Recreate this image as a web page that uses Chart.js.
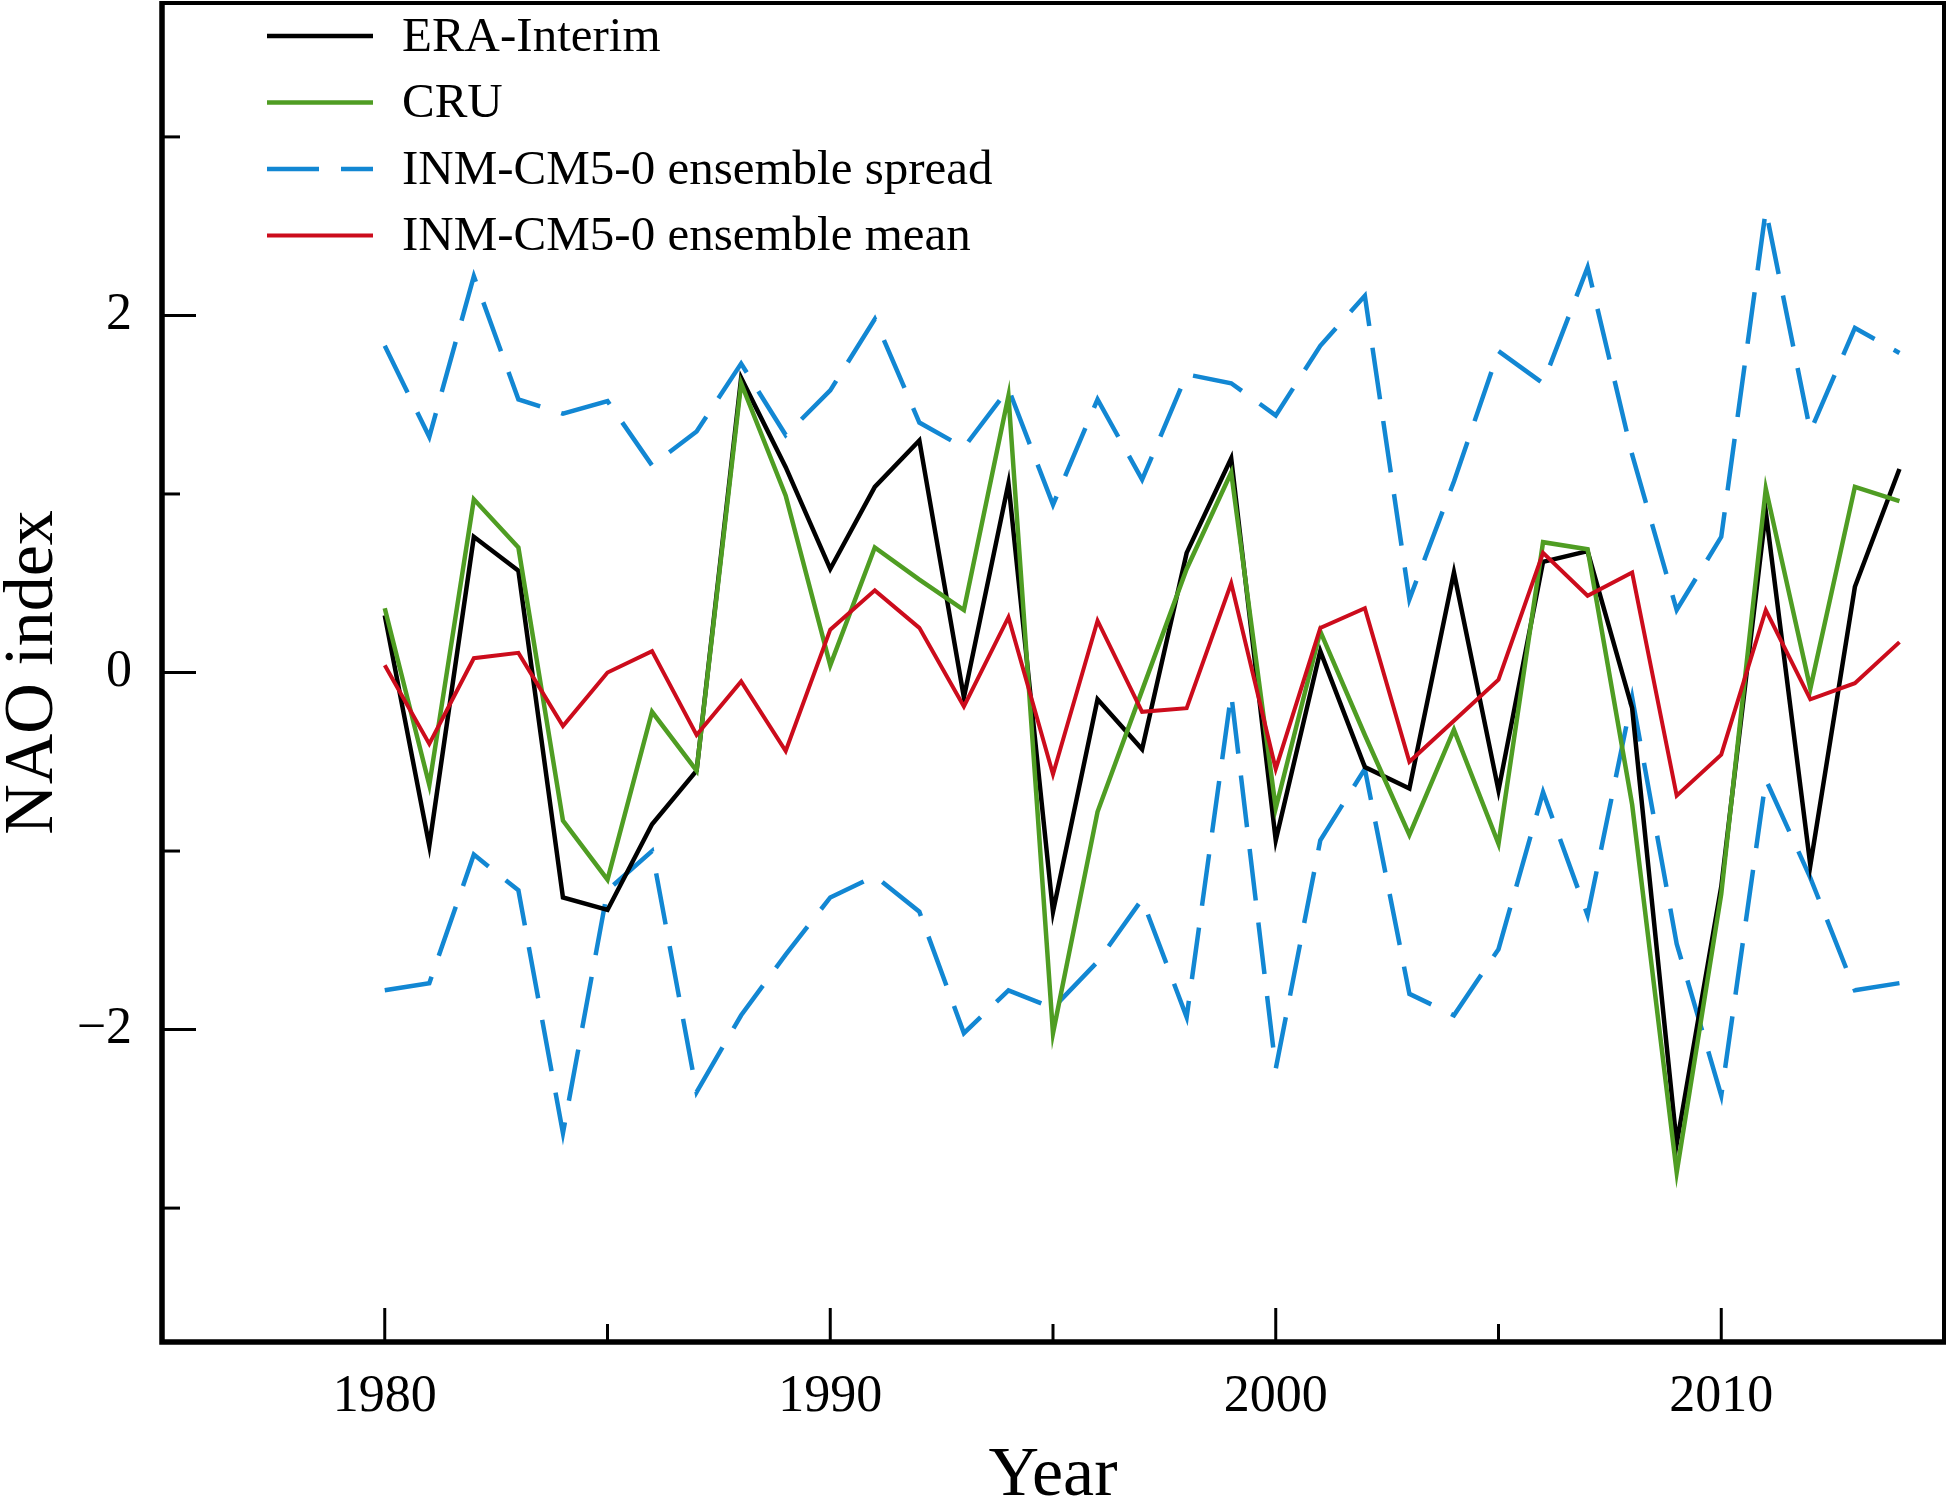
<!DOCTYPE html>
<html>
<head>
<meta charset="utf-8">
<script src="https://cdn.jsdelivr.net/npm/chart.js@4.4.1/dist/chart.umd.min.js"></script>
<style>
  body { margin: 0; background: #fff; }
  #wrap { width: 1950px; height: 1500px; }
</style>
</head>
<body>
<div id="wrap"><canvas id="nao-chart" width="1950" height="1500"></canvas></div>
<script>
var years = [
  1980, 1981, 1982, 1983, 1984, 1985, 1986, 1987, 1988, 1989,
  1990, 1991, 1992, 1993, 1994, 1995, 1996, 1997, 1998, 1999,
  2000, 2001, 2002, 2003, 2004, 2005, 2006, 2007, 2008, 2009,
  2010, 2011, 2012, 2013, 2014,
];

var eraInterim = [
  0.32, -0.97, 0.76, 0.57, -1.26, -1.33, -0.85, -0.55, 1.65, 1.15,
  0.58, 1.04, 1.30, -0.14, 1.06, -1.34, -0.15, -0.43, 0.67, 1.20,
  -0.94, 0.12, -0.53, -0.65, 0.56, -0.66, 0.62, 0.68, -0.20, -2.64,
  -1.20, 0.90, -1.08, 0.48, 1.14,
];

var cru = [
  0.36, -0.63, 0.97, 0.70, -0.83, -1.16, -0.22, -0.55, 1.62, 0.99,
  0.04, 0.70, 0.52, 0.35, 1.55, -2.02, -0.78, -0.10, 0.58, 1.12,
  -0.76, 0.23, -0.35, -0.91, -0.32, -0.96, 0.73, 0.69, -0.74, -2.80,
  -1.24, 1.03, -0.09, 1.04, 0.96,
];

var spreadUpper = [
  1.83, 1.32, 2.22, 1.53, 1.45, 1.52, 1.16, 1.35, 1.73, 1.33,
  1.58, 1.98, 1.40, 1.26, 1.59, 0.94, 1.53, 1.08, 1.67, 1.62,
  1.44, 1.83, 2.11, 0.41, 1.07, 1.80, 1.62, 2.27, 1.22, 0.35,
  0.76, 2.59, 1.35, 1.93, 1.79,
];

var spreadLower = [
  -1.78, -1.74, -1.02, -1.22, -2.58, -1.22, -1.00, -2.35, -1.92, -1.58,
  -1.26, -1.14, -1.34, -2.02, -1.78, -1.88, -1.62, -1.27, -1.93, -0.12,
  -2.22, -0.94, -0.54, -1.80, -1.92, -1.55, -0.67, -1.36, -0.14, -1.52,
  -2.37, -0.60, -1.15, -1.78, -1.74,
];

var ensembleMean = [
  0.04, -0.40, 0.08, 0.11, -0.30, 0.00, 0.12, -0.35, -0.05, -0.44,
  0.24, 0.46, 0.25, -0.19, 0.31, -0.57, 0.29, -0.22, -0.20, 0.50,
  -0.54, 0.25, 0.36, -0.50, -0.27, -0.04, 0.67, 0.43, 0.56, -0.69,
  -0.46, 0.35, -0.15, -0.06, 0.17,
];

var xMajorTicks = [1980, 1990, 2000, 2010];
var xMinorTicks = [1985, 1995, 2005];
var yMajorTicks = [-2, 0, 2];
var yMinorTicks = [-3, -1, 1, 3];

function points(values) {
  return years.map(function (yr, i) {
    return { x: yr, y: values[i] };
  });
}

var serif = '"Liberation Serif", "Times New Roman", serif';

// frame, inward ticks and the legend inside the plot box
var framePlugin = {
  id: "frame",
  afterDraw: function (chart) {
    var ctx = chart.ctx;
    var area = chart.chartArea;
    var xs = chart.scales.x;
    var ys = chart.scales.y;
    ctx.save();
    ctx.strokeStyle = "#000";
    ctx.setLineDash([]);

    ctx.lineWidth = 3;
    xMajorTicks.concat(xMinorTicks).forEach(function (v) {
      var len = xMajorTicks.indexOf(v) >= 0 ? 34 : 18;
      var px = xs.getPixelForValue(v);
      ctx.beginPath();
      ctx.moveTo(px, area.bottom);
      ctx.lineTo(px, area.bottom - len);
      ctx.stroke();
    });
    yMajorTicks.concat(yMinorTicks).forEach(function (v) {
      var len = yMajorTicks.indexOf(v) >= 0 ? 34 : 18;
      var py = ys.getPixelForValue(v);
      ctx.beginPath();
      ctx.moveTo(area.left, py);
      ctx.lineTo(area.left + len, py);
      ctx.stroke();
    });

    ctx.lineWidth = 4;
    ctx.beginPath();
    ctx.moveTo(area.left, area.top);
    ctx.lineTo(area.right, area.top);
    ctx.lineTo(area.right, area.bottom);
    ctx.stroke();
    ctx.lineWidth = 5.5;
    ctx.beginPath();
    ctx.moveTo(area.left, area.top - 2);
    ctx.lineTo(area.left, area.bottom);
    ctx.lineTo(area.right + 2, area.bottom);
    ctx.stroke();

    ctx.font = "49px " + serif;
    ctx.textBaseline = "middle";
    ctx.fillStyle = "#000";
    chart.data.datasets.forEach(function (ds) {
      if (ds.noLegend) return;
      var y = 36 + ds.legendRow * 66.5;
      ctx.strokeStyle = ds.borderColor;
      ctx.lineWidth = ds.borderWidth;
      ctx.setLineDash(ds.borderDash || []);
      ctx.beginPath();
      ctx.moveTo(267, y);
      ctx.lineTo(373, y);
      ctx.stroke();
      ctx.setLineDash([]);
      ctx.fillText(ds.label, 402, y + 2);
    });
    ctx.restore();
  },
};

function noPadding(scale) {
  scale.paddingTop = 0;
  scale.paddingBottom = 0;
  scale.paddingLeft = 0;
  scale.paddingRight = 0;
}

var naoChart = new Chart(document.getElementById("nao-chart"), {
  type: "line",
  data: {
    datasets: [
      {
        label: "ERA-Interim",
        legendRow: 0,
        data: points(eraInterim),
        borderColor: "#000000",
        borderWidth: 4.5,
        order: 2,
      },
      {
        label: "CRU",
        legendRow: 1,
        data: points(cru),
        borderColor: "#4f9d23",
        borderWidth: 4.5,
        order: 1,
      },
      {
        label: "INM-CM5-0 ensemble spread",
        legendRow: 2,
        data: points(spreadUpper),
        borderColor: "#1287d3",
        borderWidth: 4.5,
        borderDash: [52, 22],
        order: 3,
      },
      {
        label: "INM-CM5-0 ensemble spread (lower)",
        noLegend: true,
        data: points(spreadLower),
        borderColor: "#1287d3",
        borderWidth: 4.5,
        borderDash: [52, 22],
        order: 3,
      },
      {
        label: "INM-CM5-0 ensemble mean",
        legendRow: 3,
        data: points(ensembleMean),
        borderColor: "#cc0c1c",
        borderWidth: 4,
        order: 0,
      },
    ],
  },
  options: {
    responsive: false,
    animation: false,
    devicePixelRatio: 1,
    layout: { padding: { top: 3, right: 6, bottom: 0, left: 0 } },
    elements: {
      point: { radius: 0 },
      line: { tension: 0, borderCapStyle: "butt", borderJoinStyle: "miter" },
    },
    plugins: {
      legend: { display: false },
      tooltip: { enabled: false },
    },
    scales: {
      x: {
        type: "linear",
        min: 1975,
        max: 2015,
        afterFit: function (scale) {
          scale.height = 158;
          noPadding(scale);
        },
        afterBuildTicks: function (scale) {
          scale.ticks = xMajorTicks.map(function (v) {
            return { value: v };
          });
        },
        grid: { display: false, drawTicks: false },
        border: { display: false },
        ticks: {
          padding: 24,
          color: "#000",
          font: { family: serif, size: 52 },
          maxRotation: 0,
          callback: function (v) {
            return String(v);
          },
        },
        title: {
          display: true,
          text: "Year",
          color: "#000",
          font: { family: serif, size: 70, lineHeight: 1 },
          padding: { top: 0, bottom: -12 },
        },
      },
      y: {
        min: -3.75,
        max: 3.75,
        afterFit: function (scale) {
          scale.width = 162;
          noPadding(scale);
        },
        afterBuildTicks: function (scale) {
          scale.ticks = yMajorTicks.map(function (v) {
            return { value: v };
          });
        },
        grid: { display: false, drawTicks: false },
        border: { display: false },
        ticks: {
          padding: 30,
          color: "#000",
          font: { family: serif, size: 52 },
          callback: function (v) {
            return v < 0 ? "\u2212" + Math.abs(v) : String(v);
          },
        },
        title: {
          display: true,
          text: "NAO index",
          color: "#000",
          font: { family: serif, size: 70, lineHeight: 1 },
          padding: { top: -1, bottom: 0 },
        },
      },
    },
  },
  plugins: [framePlugin],
});
</script>
</body>
</html>
